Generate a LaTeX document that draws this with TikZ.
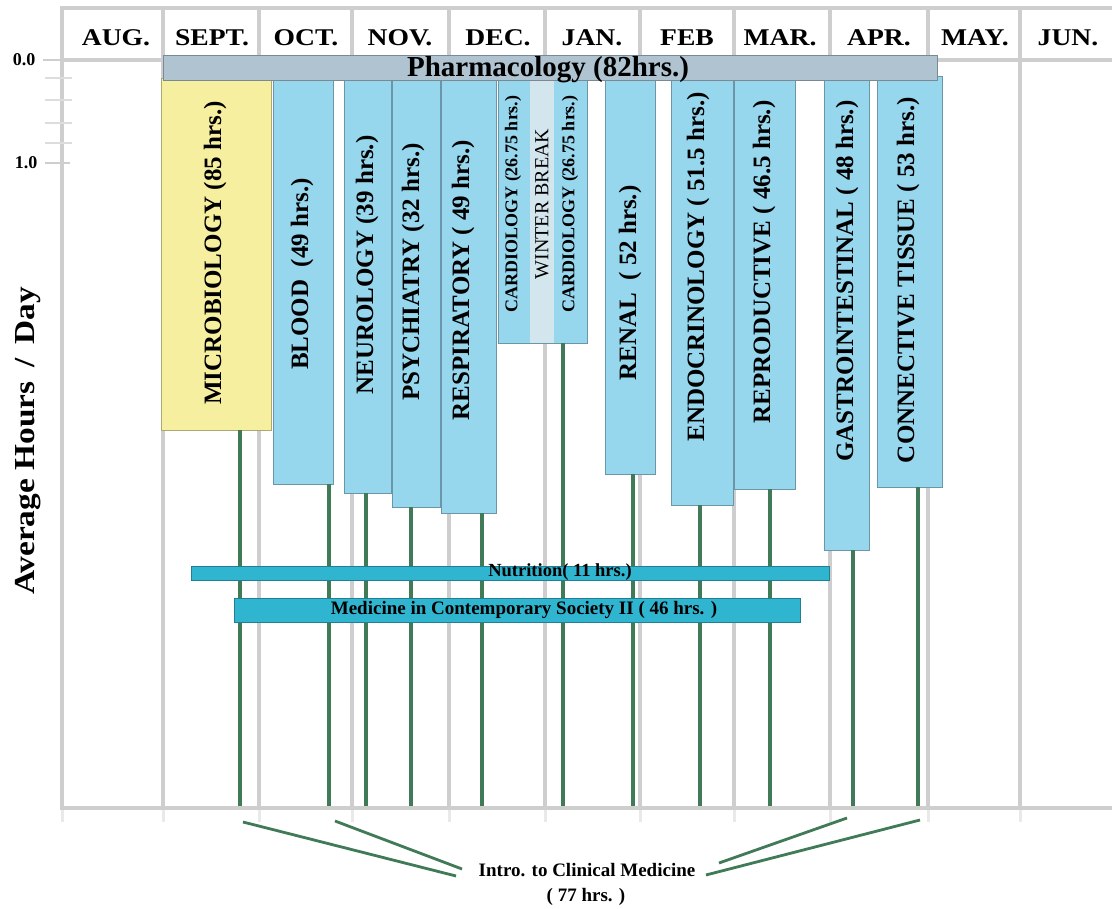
\documentclass[tikz,border=0pt]{standalone}
\usepackage{fontspec}
\setmainfont{Liberation Serif}
\definecolor{skyb}{RGB}{151,215,238}
\definecolor{yelb}{RGB}{247,239,160}
\definecolor{pharmc}{RGB}{175,196,208}
\definecolor{wintc}{RGB}{212,230,237}
\definecolor{tealbar}{RGB}{48,181,208}
\definecolor{icmg}{RGB}{64,122,86}
\definecolor{gridc}{RGB}{206,206,206}
\begin{document}
\begin{tikzpicture}[x=1pt,y=-1pt,
  gridl/.style={draw=gridc, line width=3.6pt},
  tickl/.style={draw=gridc, line width=2.5pt},
  stubl/.style={draw=gridc!45, line width=3pt},
  course/.style={fill=#1, draw=#1!70!black, line width=0.7pt, anchor=north west, inner sep=0pt, outer sep=0pt},
  flat/.style={fill=#1, draw=none, anchor=north west, inner sep=0pt, outer sep=0pt},
  lab/.style={font=\fontsize{25}{25}\selectfont\bfseries, rotate=90, inner sep=0pt},
  smlab/.style={font=\fontsize{18}{18}\selectfont\bfseries, rotate=90, inner sep=0pt},
  month/.style={font=\fontsize{24}{24}\selectfont\bfseries, inner sep=0pt},
  icm/.style={draw=icmg, line width=3.8pt},
  icmdiag/.style={draw=icmg, line width=2.8pt},
  barlab/.style={font=\fontsize{19}{19}\selectfont\bfseries, inner sep=0pt},
  axlab/.style={font=\fontsize{18}{18}\selectfont\bfseries, inner sep=0pt}]
\useasboundingbox (0,0) rectangle (1112,909);
\fill[white] (0,0) rectangle (1112,909);

% grid
\foreach \gx in {62,163,259,352,449,545,640,734,830,928,1020}{
  \draw[gridl] (\gx,8) -- (\gx,808);
  \draw[stubl] (\gx,810) -- (\gx,822);
}
\draw[gridl] (60,8) -- (1112,8);
\draw[gridl] (60,60) -- (1112,60);
\draw[gridl] (60,808) -- (1112,808);

% y axis ticks
\draw[tickl] (43,60) -- (62,60);
\foreach \ty in {78,100,123,143}{ \draw[tickl, draw=gridc!70] (45,\ty) -- (72,\ty); }
\draw[tickl] (45,163) -- (70,163);
\node[axlab] (y0) at (24,60) {0.0};
\node[axlab] (y1) at (26,163) {1.0};
\node[font=\fontsize{29}{29}\selectfont\bfseries, rotate=90, inner sep=0pt] (ytitle) at (28,441) {\scalebox{1.15}[1]{Average Hours \,/\, Day}};

% months
\node[month] (aug) at (116,38) {\scalebox{1.15}[1]{AUG.}};
\node[month] (sep) at (212,38) {\scalebox{1.15}[1]{SEPT.}};
\node[month] (oct) at (306,38) {\scalebox{1.15}[1]{OCT.}};
\node[month] (nov) at (400,38) {\scalebox{1.15}[1]{NOV.}};
\node[month] (dec) at (498,38) {\scalebox{1.15}[1]{DEC.}};
\node[month] (jan) at (592,38) {\scalebox{1.15}[1]{JAN.}};
\node[month] (feb) at (687,38) {\scalebox{1.15}[1]{FEB}};
\node[month] (mar) at (780,38) {\scalebox{1.15}[1]{MAR.}};
\node[month] (apr) at (879,38) {\scalebox{1.15}[1]{APR.}};
\node[month] (may) at (975,38) {\scalebox{1.15}[1]{MAY.}};
\node[month] (jun) at (1068,38) {\scalebox{1.15}[1]{JUN.}};

% course boxes
\node[course=yelb, minimum width=110pt, minimum height=352pt] (micro) at (161,78) {};
\node[course=skyb, minimum width=60pt, minimum height=406pt] (blood) at (273,78) {};
\node[course=skyb, minimum width=47pt, minimum height=415pt] (neuro) at (344,78) {};
\node[course=skyb, minimum width=48pt, minimum height=429pt] (psych) at (392,78) {};
\node[course=skyb, minimum width=55pt, minimum height=435pt] (resp) at (441,78) {};
\node[flat=skyb, minimum width=32pt, minimum height=265pt] (cardA) at (498,78) {};
\node[flat=wintc, minimum width=24pt, minimum height=265pt] (winter) at (530,78) {};
\node[flat=skyb, minimum width=33pt, minimum height=265pt] (cardB) at (554,78) {};
\node[draw=skyb!70!black, line width=0.7pt, anchor=north west, inner sep=0pt, minimum width=89pt, minimum height=265pt] (cardall) at (498,78) {};
\node[course=skyb, minimum width=50pt, minimum height=396pt] (renal) at (605,78) {};
\node[course=skyb, minimum width=62pt, minimum height=427pt] (endo) at (671,78) {};
\node[course=skyb, minimum width=61pt, minimum height=411pt] (repro) at (734,78) {};
\node[course=skyb, minimum width=45pt, minimum height=472pt] (gastro) at (824,78) {};
\node[course=skyb, minimum width=65pt, minimum height=411pt] (conn) at (877,76) {};

% pharmacology
\node[course=pharmc, minimum width=774pt, minimum height=25pt] (pharm) at (163,55) {};
\node[font=\fontsize{29}{29}\selectfont\bfseries, inner sep=0pt] (pharmlab) at (548,70) {Pharmacology (82hrs.)};

% box labels
\node[lab] (microlab) at (215,253) {MICROBIOLOGY (85 hrs.)};
\node[lab] (bloodlab) at (302,274) {BLOOD\ \ (49 hrs.)};
\node[lab] (neurolab) at (367,265) {NEUROLOGY (39 hrs.)};
\node[lab] (psychlab) at (413,272) {PSYCHIATRY (32 hrs.)};
\node[lab] (resplab) at (463,280) {RESPIRATORY ( 49 hrs.)};
\node[smlab] (cardAlab) at (513,204) {CARDIOLOGY (26.75 hrs.)};
\node[smlab, font=\fontsize{20}{20}\selectfont] (winterlab) at (542,204) {WINTER BREAK};
\node[smlab] (cardBlab) at (570,204) {CARDIOLOGY (26.75 hrs.)};
\node[lab] (renallab) at (630,283) {RENAL\ \ ( 52 hrs.)};
\node[lab] (endolab) at (698,267) {ENDOCRINOLOGY ( 51.5 hrs.)};
\node[lab] (reprolab) at (764,262) {REPRODUCTIVE ( 46.5 hrs.)};
\node[lab] (gastrolab) at (847,281) {GASTROINTESTINAL ( 48 hrs.)};
\node[lab] (connlab) at (908,280) {CONNECTIVE TISSUE ( 53 hrs.)};

% ICM vertical lines
\foreach \src/\gx in {micro/240,blood/329,neuro/366,psych/411,resp/482,cardB/563,renal/633,endo/700,repro/770,gastro/853,conn/918}{
  \coordinate (foot-\src) at (\gx,806);
  \draw[icm] (\src.south -| foot-\src) -- (foot-\src);
}

% nutrition and MCS bars
\node[course=tealbar, minimum width=638pt, minimum height=14pt] (nutr) at (191,566) {};
\node[barlab, font=\fontsize{18.5}{18.5}\selectfont\bfseries] (nutrlab) at (560,572) {Nutrition( 11 hrs.)};
\node[course=tealbar, minimum width=566pt, minimum height=24pt] (mcs) at (234,598) {};
\node[barlab] (mcslab) at (524,610) {Medicine in Contemporary Society II ( 46 hrs. )};

% Intro to clinical medicine
\node[font=\fontsize{19}{19}\selectfont\bfseries, inner sep=0pt] (icmlab) at (587,870) {Intro. to Clinical Medicine};
\node[font=\fontsize{19}{19}\selectfont\bfseries, inner sep=0pt] (icmhrs) at (586,897) {( 77 hrs. )};
\coordinate (a1) at (243,822); \coordinate (a2) at (456,876);
\coordinate (b1) at (335,821); \coordinate (b2) at (462,869);
\coordinate (c1) at (847,818); \coordinate (c2) at (719,863);
\coordinate (d1) at (920,820); \coordinate (d2) at (706,875);
\draw[icmdiag] (a1) -- (a2);
\draw[icmdiag] (b1) -- (b2);
\draw[icmdiag] (c1) -- (c2);
\draw[icmdiag] (d1) -- (d2);
\end{tikzpicture}
\end{document}
